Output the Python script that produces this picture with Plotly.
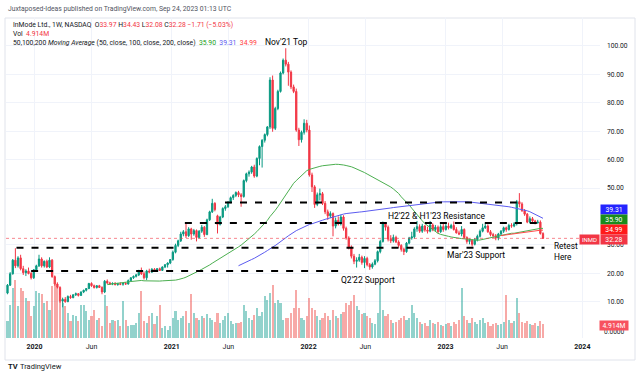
import pandas as pd
import plotly.graph_objects as go

# ---------------- DATA (weekly, split-adjusted) ----------------
week_start = "2019-08-05"
n_weeks = 216

opens = [
    7.0, 8.6, 9.4, 9.2, 10.0, 11.0, 11.6, 12.0, 11.2, 11.6, 12.2,
    13.0, 15.8, 19.8, 24.6, 22.6, 25.4, 21.6, 20.2, 20.8, 19.9,
    18.4, 21.2, 22.6, 25.0, 22.6, 24.2, 22.2, 24.6, 18.8, 16.2,
    15.0, 10.2, 10.8, 10.0, 11.8, 11.4, 12.4, 12.8, 12.2, 13.4,
    14.0, 14.6, 16.4, 15.6, 15.0, 15.6, 15.0, 13.4, 17.2, 16.6,
    16.2, 16.4, 16.0, 16.3, 16.1, 16.4, 16.2, 17.4, 18.4, 18.9,
    19.4, 20.9, 19.8, 18.4, 20.8, 20.4, 21.4, 20.9, 21.6, 21.0,
    22.2, 23.0, 23.6,
    24.8, 27.4, 29.8, 31.4, 33.8, 34.6, 33.2, 35.6, 33.8, 35.0,
    32.6, 34.8, 36.2, 33.6, 38.8, 41.6, 44.6, 40.2, 37.2, 39.8,
    42.8, 43.4, 45.0, 46.6, 47.4, 48.4, 47.6, 47.0, 52.6, 55.0,
    55.6, 57.4, 54.2, 60.4, 64.6, 66.8, 68.8, 71.5, 88.0, 71.0,
    78.0, 84.0, 90.5, 95.0, 93.6, 90.8, 85.6, 84.0, 70.4, 67.0,
    69.6, 72.8,
    70.4, 54.6, 50.4, 44.2, 47.6, 48.0, 44.6, 41.6, 40.2, 41.0,
    36.6, 38.6, 37.4, 39.8, 35.8, 32.4, 29.2, 26.0, 24.2, 24.6,
    25.6, 23.8, 25.2, 23.0, 22.2, 23.2, 24.4, 27.6, 31.2, 37.4,
    36.2, 32.0, 31.4, 32.6, 31.0, 29.8, 28.4, 27.6, 30.6, 32.4,
    32.8, 35.6, 36.4, 34.8, 36.6, 35.2, 34.8, 37.0, 35.4, 36.2,
    34.6, 36.4,
    35.4, 36.6, 36.0, 36.8, 35.4, 34.2, 33.8, 35.4, 32.6, 31.2,
    31.6, 30.2, 31.8, 33.0, 34.8, 36.0, 36.6, 34.6, 33.6, 33.2,
    32.4, 33.8, 34.8, 36.0, 35.4, 36.8, 36.6, 37.4, 45.2, 44.4,
    42.0, 40.8, 38.0, 39.2, 38.4, 37.8, 38.0, 33.97,
]

highs = [
    9.0, 9.8, 9.8, 10.4, 11.4, 12.0, 12.4, 12.2, 12.0, 12.6, 13.4,
    16.2, 20.4, 25.0, 28.8, 26.0, 26.5, 22.6, 21.4, 22.0, 20.5,
    21.5, 23.0, 26.5, 25.6, 24.5, 24.8, 25.6, 25.0, 19.2, 16.8,
    15.4, 11.4, 11.6, 12.2, 12.4, 12.6, 13.2, 13.0, 13.6, 14.2,
    14.8, 16.6, 16.8, 16.0, 15.8, 15.9, 15.4, 17.6, 17.8, 17.0,
    16.8, 16.9, 16.6, 16.8, 16.6, 16.9, 17.8, 18.6, 19.2, 19.8,
    21.2, 22.0, 20.6, 21.2, 21.6, 21.8, 21.8, 21.8, 22.0, 22.4,
    23.2, 23.8, 25.0,
    28.0, 30.4, 31.8, 34.6, 35.2, 37.4, 36.2, 36.0, 35.6, 35.4,
    35.2, 37.0, 36.6, 39.2, 42.0, 46.2, 45.0, 40.6, 40.2, 43.2,
    44.0, 45.4, 47.0, 47.8, 48.8, 49.0, 48.2, 53.0, 55.4, 56.2,
    57.8, 58.2, 60.8, 65.0, 67.2, 69.2, 71.8, 89.0, 89.6, 78.6,
    84.6, 91.0, 95.6, 99.2, 94.4, 91.4, 86.4, 85.0, 71.2, 70.2,
    74.2, 74.0,
    72.0, 55.4, 51.0, 48.4, 49.8, 48.6, 45.4, 42.4, 41.8, 41.4,
    39.6, 40.0, 40.6, 40.4, 36.4, 33.0, 29.8, 26.8, 25.6, 26.8,
    26.2, 26.0, 25.8, 23.6, 23.8, 25.0, 28.0, 31.8, 38.2, 38.0,
    36.8, 33.4, 33.6, 33.2, 31.6, 30.2, 29.0, 31.0, 32.8, 34.6,
    36.2, 38.4, 37.2, 37.4, 37.0, 36.4, 38.4, 37.6, 37.0, 36.8,
    37.2, 37.6,
    37.8, 37.8, 37.4, 38.2, 36.2, 35.0, 36.6, 35.8, 33.0, 32.2,
    32.0, 32.4, 33.6, 35.4, 37.4, 37.8, 37.2, 35.2, 34.2, 33.8,
    34.2, 35.2, 36.4, 36.4, 37.4, 37.6, 38.0, 45.8, 48.2, 45.0,
    42.6, 41.2, 40.0, 39.8, 38.8, 38.8, 38.6, 34.43,
]

lows = [
    6.9, 8.2, 8.8, 9.0, 9.8, 10.6, 11.2, 10.8, 10.9, 11.4, 12.0,
    12.6, 15.5, 19.5, 21.8, 22.0, 21.0, 19.4, 19.0, 19.6, 17.8,
    18.0, 20.8, 22.2, 22.0, 22.0, 21.8, 21.8, 18.4, 15.6, 14.6,
    9.6, 8.0, 9.6, 9.8, 11.0, 11.2, 12.0, 11.8, 12.0, 13.0,
    13.6, 14.4, 15.2, 14.6, 14.6, 14.8, 12.6, 13.0, 16.2, 15.9,
    15.8, 15.7, 15.6, 15.8, 15.6, 15.9, 16.0, 17.0, 18.0, 18.5,
    19.0, 19.4, 17.8, 17.6, 20.0, 20.1, 20.6, 20.6, 20.8, 20.8,
    21.8, 22.0, 23.2,
    24.4, 27.0, 29.2, 31.0, 33.0, 32.4, 32.8, 31.8, 33.2, 31.2,
    32.2, 34.2, 32.8, 33.4, 38.4, 41.2, 41.8, 34.0, 36.8, 39.4,
    42.0, 43.0, 44.6, 45.8, 46.8, 46.8, 43.4, 46.6, 52.0, 54.0,
    55.0, 53.6, 53.8, 58.0, 57.2, 66.0, 68.2, 70.8, 69.8, 70.4,
    77.4, 83.6, 90.0, 92.8, 86.0, 84.8, 83.4, 69.8, 64.8, 66.0,
    68.8, 69.6,
    54.0, 48.6, 43.0, 43.6, 45.6, 44.0, 40.8, 38.8, 39.4, 33.0,
    35.8, 36.8, 36.8, 35.0, 31.8, 28.4, 25.2, 23.2, 22.0, 24.0,
    23.0, 21.8, 22.4, 21.2, 21.6, 22.8, 23.8, 27.0, 30.8, 35.0,
    31.2, 30.6, 30.8, 30.6, 29.0, 27.6, 26.4, 27.2, 30.2, 31.8,
    32.2, 34.6, 34.2, 34.2, 34.6, 34.0, 34.4, 34.8, 34.8, 34.0,
    34.2, 34.6,
    35.0, 35.4, 35.6, 35.0, 34.0, 33.4, 33.0, 32.2, 30.4, 30.2,
    29.4, 29.8, 31.2, 32.6, 34.4, 35.6, 34.2, 33.0, 32.4, 31.6,
    31.6, 33.2, 34.2, 34.6, 35.0, 36.0, 36.2, 36.8, 43.2, 41.6,
    40.2, 37.6, 37.6, 37.8, 37.2, 37.4, 33.6, 32.08,
]

closes = [
    8.6, 9.4, 9.2, 10.0, 11.0, 11.6, 12.0, 11.2, 11.6, 12.2, 13.0,
    15.8, 19.8, 24.6, 22.6, 25.4, 21.6, 20.2, 20.8, 19.9, 18.4,
    21.2, 22.6, 25.0, 22.6, 24.2, 22.2, 24.6, 18.8, 16.2, 15.0,
    10.2, 10.8, 10.0, 11.8, 11.4, 12.4, 12.8, 12.2, 13.4, 14.0,
    14.6, 16.4, 15.6, 15.0, 15.6, 15.0, 13.4, 17.2, 16.6, 16.2,
    16.4, 16.0, 16.3, 16.1, 16.4, 16.2, 17.4, 18.4, 18.9, 19.4,
    20.9, 19.8, 18.4, 20.8, 20.4, 21.4, 20.9, 21.6, 21.0, 22.2,
    23.0, 23.6, 24.8,
    27.4, 29.8, 31.4, 33.8, 34.6, 33.2, 35.6, 33.8, 35.0, 32.6,
    34.8, 36.2, 33.6, 38.8, 41.6, 44.6, 42.4, 37.2, 39.8, 42.8,
    43.4, 45.0, 46.6, 47.4, 48.4, 47.6, 47.0, 52.6, 55.0, 55.6,
    57.4, 54.2, 60.4, 64.6, 66.8, 68.8, 71.5, 88.0, 71.0, 78.0,
    84.0, 90.5, 95.0, 93.6, 90.8, 85.6, 84.0, 70.4, 67.0, 69.6,
    72.8, 70.4,
    54.6, 50.4, 44.2, 47.6, 48.0, 44.6, 41.6, 40.2, 41.0, 36.6,
    38.6, 37.4, 39.8, 35.8, 32.4, 29.2, 26.0, 24.2, 24.6, 25.6,
    23.8, 25.2, 23.0, 22.2, 23.2, 24.4, 27.6, 31.2, 37.4, 36.2,
    32.0, 31.4, 32.6, 31.0, 29.8, 28.4, 27.6, 30.6, 32.4, 32.8,
    35.6, 36.4, 34.8, 36.6, 35.2, 34.8, 37.0, 35.4, 36.2, 34.6,
    36.4, 35.4,
    36.6, 36.0, 36.8, 35.4, 34.2, 33.8, 35.4, 32.6, 31.2, 31.6,
    30.2, 31.8, 33.0, 34.8, 36.0, 36.6, 34.6, 33.6, 33.2, 32.4,
    33.8, 34.8, 36.0, 35.4, 36.8, 36.6, 37.4, 45.2, 44.4, 42.0,
    40.8, 38.0, 39.2, 38.4, 37.8, 38.0, 33.99, 32.28,
]

volumes_m = [
    25.0, 8.0, 5.0, 4.5, 6.0, 5.5, 4.0, 4.5, 3.5, 4.0, 5.0,
    6.0, 11.6, 17.5, 20.4, 11.2, 17.5, 16.5, 14.0, 13.0, 7.7,
    11.2, 16.5, 15.8, 15.4, 12.3, 13.0, 9.8, 18.2, 20.4, 17.5,
    15.1, 12.3, 11.2, 8.8, 6.0, 8.1, 7.7, 6.0, 11.6, 11.6,
    9.5, 6.3, 7.7, 9.8, 6.3, 7.0, 4.2, 15.1, 11.2, 5.3,
    6.3, 6.0, 6.3, 4.2, 13.0, 6.3, 4.2, 4.6, 4.6, 5.3,
    8.8, 16.5, 6.0, 5.3, 7.7, 8.8, 4.9, 7.7, 11.6, 3.5,
    4.2, 2.8, 4.2,
    7.0, 9.5, 6.3, 7.0, 7.7, 9.5, 5.3, 15.4, 8.8, 7.0,
    6.3, 7.7, 7.0, 8.4, 7.0, 6.3, 5.6, 8.8, 5.3, 6.3,
    7.7, 8.8, 6.0, 4.9, 5.3, 5.3, 5.6, 11.6, 9.5, 7.0,
    6.3, 8.1, 10.5, 7.7, 9.1, 14.7, 13.3, 15.8, 18.6, 12.3,
    13.3, 12.3, 6.3, 7.0, 7.0, 8.8, 10.5, 16.8, 10.5, 7.0,
    6.3, 7.7,
    14.0, 10.5, 9.8, 7.7, 6.3, 7.0, 8.8, 7.7, 6.3, 9.8,
    7.7, 7.0, 8.4, 9.1, 12.3, 11.6, 13.0, 15.1, 11.2, 9.8,
    8.4, 8.8, 7.7, 7.0, 5.3, 4.9, 8.8, 19.3, 9.8, 7.7,
    8.4, 6.3, 5.3, 5.6, 6.3, 7.0, 7.7, 6.3, 7.0, 11.6,
    8.8, 7.0, 5.6, 4.9, 5.3, 4.2, 6.3, 5.3, 4.9, 5.6,
    4.6, 4.2,
    4.9, 5.3, 4.2, 5.6, 4.9, 6.3, 17.5, 7.7, 6.3, 5.3,
    7.0, 5.6, 4.9, 6.3, 7.0, 5.3, 5.6, 4.2, 4.9, 5.3,
    4.6, 4.9, 5.6, 15.1, 6.3, 5.3, 6.0, 14.0, 8.8, 5.6,
    5.3, 6.0, 4.9, 4.6, 5.3, 4.2, 6.0, 4.914,
]

# drawn support / resistance levels
level_prices = [29.0, 20.8, 37.7, 44.9]
level_starts = ["2019-11-14", "2019-12-23", "2021-02-05", "2021-05-23"]
level_ends = ["2023-09-22", "2022-03-31", "2023-09-10", "2023-07-10"]

note_texts = ["Nov'21 Top", "H2'22 & H1'23 Resistance", "Q2'22 Support",
              "Mar'23 Support"]
note_x = ["2021-11-04", "2022-12-09", "2022-06-08", "2023-03-22"]
note_y = [101.4, 40.1, 17.6, 26.4]

ma_periods = [50, 100, 200]
ma_colors = ["#4caf50", "#5b5bf0", "#ff4a4a"]
ma_last = ["35.90", "39.31", "34.99"]

price_ticks = [10, 20, 30, 50, 60, 70, 80, 90, 100]
x_tick_vals = ["2020-01-01", "2020-06-01", "2021-01-01", "2021-06-01",
               "2022-01-01", "2022-06-01", "2023-01-01", "2023-06-01",
               "2024-01-01"]
x_tick_text = ["<b>2020</b>", "Jun", "<b>2021</b>", "Jun", "<b>2022</b>",
               "Jun", "<b>2023</b>", "Jun", "<b>2024</b>"]

last_close = 32.28

# ---------------- FIGURE ----------------
dates = pd.date_range(week_start, periods=n_weeks, freq="7D")
UP, DN = "#089981", "#f23645"
FONT = "Roboto"
TXT = "#131722"

fig = go.Figure()

vol_colors = ["rgba(38,166,154,0.5)" if c >= o else "rgba(239,83,80,0.5)"
              for o, c in zip(opens, closes)]
fig.add_trace(go.Bar(x=dates, y=volumes_m, marker_color=vol_colors,
                     marker_line_width=0, width=5.5 * 86400000,
                     yaxis="y2", hoverinfo="skip", showlegend=False))

fig.add_trace(go.Candlestick(
    x=dates, open=opens, high=highs, low=lows, close=closes,
    increasing=dict(line=dict(color=UP, width=1), fillcolor=UP),
    decreasing=dict(line=dict(color=DN, width=1), fillcolor=DN),
    whiskerwidth=0, hoverinfo="skip", showlegend=False))

cs = pd.Series(closes)
for p, col_ in zip(ma_periods, ma_colors):
    fig.add_trace(go.Scatter(x=dates, y=cs.rolling(p).mean(), mode="lines",
                             line=dict(color=col_, width=1),
                             hoverinfo="skip", showlegend=False))

shapes = []
for lp, ls, le in zip(level_prices, level_starts, level_ends):
    shapes.append(dict(type="line", xref="x", yref="y", x0=ls, x1=le,
                       y0=lp, y1=lp,
                       line=dict(color="#000000", width=2, dash="7px,8px")))
shapes.append(dict(type="line", xref="paper", yref="y", x0=0, x1=1,
                   y0=last_close, y1=last_close,
                   line=dict(color="rgba(242,54,69,0.6)", width=1, dash="dot")))
# outer frame
L, T, W, H = 6, 17, 594, 321
def px(xp):
    return (xp - L) / W
def py(yp):
    return (T + H - yp) / H
shapes.append(dict(type="rect", xref="paper", yref="paper",
                   x0=px(5), x1=px(635), y0=py(360), y1=py(18),
                   line=dict(color="#e0e3eb", width=1), layer="below"))

ann = []
for t, x, y in zip(note_texts, note_x, note_y):
    ann.append(dict(x=x, y=y, xref="x", yref="y", text=t, showarrow=False,
                    font=dict(family=FONT, size=8.5, color="#000000"),
                    xanchor="center", yanchor="middle"))
ann.append(dict(x="2023-10-14", y=29.6, xref="x", yref="y", text="Retest",
                showarrow=False, xanchor="left", yanchor="middle", borderpad=0,
                font=dict(family=FONT, size=8.3, color="#000000")))
ann.append(dict(x="2023-10-14", y=25.8, xref="x", yref="y", text="Here",
                showarrow=False, xanchor="left", yanchor="middle", borderpad=0,
                font=dict(family=FONT, size=8.3, color="#000000")))

red = "#f23645"
def col(t, c):
    return f"<span style='color:{c}'>{t}</span>"

header = [
    (6, 9, "Juxtaposed-Ideas published on TradingView.com, Sep 24, 2023 01:13 UTC", "#50535e"),
    (11, 25, "InMode Ltd., 1W, NASDAQ  O" + col("33.97", red) + " H" + col("34.43", red)
     + " L" + col("32.08", red) + " C" + col("32.28", red) + " " + col("−1.71 (−5.03%)", red), TXT),
    (11, 34.5, "Vol  " + col("4.914M", red), TXT),
    (11, 43.5, "50,100,200 <i>Moving Average</i> (50, close, 100, close, 200, close)  "
     + col(ma_last[0], "#22a022") + "  " + col(ma_last[1], "#5b5bf0") + "  "
     + col(ma_last[2], "#ff3b3b"), TXT),
]
for xp, yp, t, c in header:
    ann.append(dict(x=px(xp), y=py(yp), xref="paper", yref="paper", text=t,
                    showarrow=False, xanchor="left", yanchor="middle",
                    font=dict(family=FONT, size=6.8, color=c)))

# right-hand price badges
badges = [(ma_last[1], "#2424ff", 209.5), (ma_last[0], "#1b8c1b", 219.5),
          (ma_last[2], "#ff1a1a", 229.5), ("32.28", "#f23645", 239.5)]
for t, c, yp in badges:
    ann.append(dict(x=px(614), y=py(yp), xref="paper", yref="paper", text=t,
                    showarrow=False, xanchor="center", yanchor="middle",
                    bgcolor=c, width=26, height=9, borderpad=0,
                    font=dict(family=FONT, size=6.8, color="white")))
ann.append(dict(x=px(589), y=py(239.5), xref="paper", yref="paper", text="INMD",
                showarrow=False, xanchor="center", yanchor="middle",
                bgcolor="#f23645", width=19, height=9, borderpad=0,
                font=dict(family=FONT, size=6, color="white")))
ann.append(dict(x=px(614), y=py(331.5), xref="paper", yref="paper", text="0.0000",
                showarrow=False, xanchor="center", yanchor="middle",
                font=dict(family=FONT, size=6.6, color=TXT)))
ann.append(dict(x=px(614), y=py(325), xref="paper", yref="paper", text="4.914M",
                showarrow=False, xanchor="center", yanchor="middle",
                bgcolor="#f7525f", width=28, height=9, borderpad=0,
                font=dict(family=FONT, size=6.8, color="white")))
# TradingView footer
ann.append(dict(x=px(6), y=py(366), xref="paper", yref="paper", text="<b>TV</b>",
                showarrow=False, xanchor="left", yanchor="middle",
                font=dict(family=FONT, size=7.5, color=TXT)))
ann.append(dict(x=px(18), y=py(366), xref="paper", yref="paper", text="TradingView",
                showarrow=False, xanchor="left", yanchor="middle",
                font=dict(family=FONT, size=7.5, color=TXT)))

fig.update_layout(
    width=640, height=376,
    margin=dict(l=L, r=640 - L - W, t=T, b=376 - T - H, pad=0),
    paper_bgcolor="white", plot_bgcolor="white",
    showlegend=False, bargap=0, hovermode=False,
    shapes=shapes, annotations=ann,
    xaxis=dict(type="date", range=["2019-10-17", "2024-02-17"],
               rangeslider=dict(visible=False),
               tickvals=x_tick_vals, ticktext=x_tick_text,
               tickfont=dict(family=FONT, size=7, color=TXT),
               showgrid=True, gridcolor="#f0f3fa", gridwidth=1,
               showline=False, zeroline=False, ticks="",
               ticklabelstandoff=3),
    yaxis=dict(side="right", range=[-2.8, 110.2], tickvals=price_ticks,
               tickformat=".2f",
               tickfont=dict(family=FONT, size=6.7, color=TXT),
               showgrid=True, gridcolor="#f0f3fa", gridwidth=1,
               zeroline=False, showline=False, ticks="",
               ticklabelstandoff=6),
    yaxis2=dict(overlaying="y", range=[0, 112.6], visible=False,
                showgrid=False),
)

fig.write_html("out.html",
               config={"displayModeBar": False, "staticPlot": True},
               post_script="document.body.style.margin='0';document.body.style.padding='0';")
